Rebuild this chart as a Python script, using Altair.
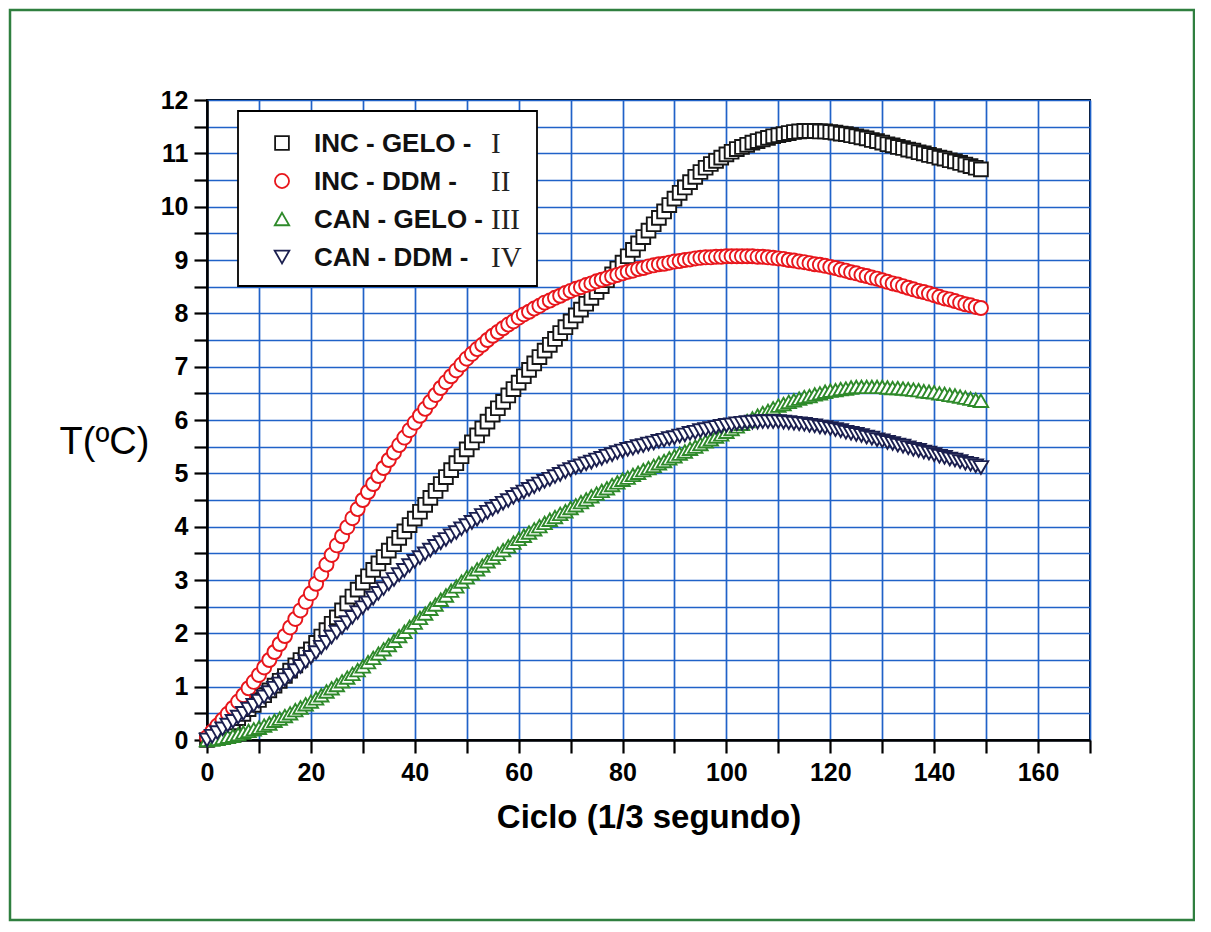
import altair as alt
import pandas as pd

# ---------------- data ----------------
cycles = list(range(150))

inc_gelo = [
    0.00, 0.06, 0.13, 0.19, 0.26, 0.33,
    0.41, 0.49, 0.58, 0.66, 0.75,
    0.84, 0.93, 1.02, 1.11, 1.20,
    1.30, 1.40, 1.50, 1.60, 1.70,
    1.82, 1.94, 2.06, 2.18, 2.30,
    2.43, 2.56, 2.69, 2.82, 2.95,
    3.07, 3.19, 3.31, 3.43, 3.55,
    3.67, 3.79, 3.91, 4.03, 4.15,
    4.28, 4.41, 4.54, 4.67, 4.80,
    4.93, 5.06, 5.19, 5.32, 5.45,
    5.58, 5.71, 5.84, 5.97, 6.10,
    6.22, 6.34, 6.46, 6.58, 6.70,
    6.82, 6.94, 7.06, 7.18, 7.30,
    7.41, 7.52, 7.63, 7.74, 7.85,
    7.96, 8.07, 8.18, 8.29, 8.40,
    8.51, 8.62, 8.73, 8.84, 8.95,
    9.07, 9.19, 9.31, 9.43, 9.55,
    9.67, 9.79, 9.91, 10.03, 10.15,
    10.26, 10.36, 10.46, 10.56, 10.65,
    10.73, 10.80, 10.86, 10.92, 10.98,
    11.03, 11.08, 11.12, 11.16, 11.20,
    11.23, 11.26, 11.29, 11.32, 11.34,
    11.36, 11.38, 11.40, 11.41, 11.42,
    11.42, 11.42, 11.41, 11.41, 11.40,
    11.39, 11.37, 11.36, 11.34, 11.32,
    11.30, 11.28, 11.25, 11.23, 11.20,
    11.17, 11.15, 11.12, 11.10, 11.07,
    11.05, 11.02, 11.00, 10.97, 10.95,
    10.92, 10.90, 10.87, 10.85, 10.82,
    10.79, 10.76, 10.73, 10.70,
]

inc_ddm = [
    0.05, 0.16, 0.27, 0.38, 0.49, 0.60,
    0.72, 0.84, 0.97, 1.09, 1.22,
    1.36, 1.50, 1.65, 1.80, 1.95,
    2.11, 2.27, 2.43, 2.59, 2.75,
    2.93, 3.11, 3.29, 3.47, 3.65,
    3.82, 3.99, 4.16, 4.33, 4.50,
    4.65, 4.80, 4.95, 5.10, 5.25,
    5.39, 5.53, 5.67, 5.81, 5.95,
    6.08, 6.21, 6.34, 6.47, 6.60,
    6.71, 6.82, 6.93, 7.04, 7.15,
    7.24, 7.33, 7.41, 7.50, 7.58,
    7.65, 7.72, 7.79, 7.85, 7.92,
    7.98, 8.03, 8.09, 8.14, 8.20,
    8.24, 8.29, 8.33, 8.38, 8.42,
    8.46, 8.49, 8.53, 8.56, 8.60,
    8.63, 8.66, 8.69, 8.72, 8.75,
    8.78, 8.80, 8.83, 8.85, 8.88,
    8.90, 8.92, 8.93, 8.95, 8.97,
    8.98, 9.00, 9.01, 9.03, 9.04,
    9.05, 9.05, 9.06, 9.06, 9.07,
    9.07, 9.07, 9.07, 9.07, 9.07,
    9.06, 9.06, 9.05, 9.04, 9.03,
    9.02, 9.00, 8.99, 8.97, 8.96,
    8.94, 8.92, 8.91, 8.89, 8.87,
    8.85, 8.82, 8.80, 8.77, 8.75,
    8.72, 8.70, 8.67, 8.65, 8.62,
    8.59, 8.56, 8.54, 8.51, 8.48,
    8.45, 8.42, 8.40, 8.37, 8.34,
    8.31, 8.28, 8.26, 8.23, 8.20,
    8.17, 8.15, 8.12, 8.10,
]

can_gelo = [
    0.00, 0.01, 0.02, 0.04, 0.06, 0.08,
    0.11, 0.14, 0.17, 0.20, 0.23,
    0.27, 0.31, 0.36, 0.40, 0.45,
    0.50, 0.56, 0.61, 0.67, 0.72,
    0.78, 0.84, 0.91, 0.97, 1.03,
    1.10, 1.17, 1.24, 1.31, 1.38,
    1.46, 1.54, 1.62, 1.70, 1.78,
    1.86, 1.95, 2.03, 2.12, 2.20,
    2.29, 2.37, 2.46, 2.54, 2.63,
    2.71, 2.80, 2.88, 2.97, 3.05,
    3.12, 3.20, 3.27, 3.35, 3.42,
    3.49, 3.56, 3.63, 3.70, 3.77,
    3.83, 3.89, 3.95, 4.01, 4.07,
    4.13, 4.18, 4.24, 4.29, 4.35,
    4.40, 4.46, 4.51, 4.57, 4.62,
    4.67, 4.72, 4.78, 4.83, 4.88,
    4.92, 4.97, 5.01, 5.06, 5.10,
    5.14, 5.19, 5.23, 5.28, 5.32,
    5.37, 5.41, 5.46, 5.50, 5.55,
    5.60, 5.64, 5.69, 5.73, 5.78,
    5.83, 5.88, 5.93, 5.98, 6.03,
    6.08, 6.13, 6.17, 6.22, 6.27,
    6.30, 6.34, 6.37, 6.40, 6.43,
    6.45, 6.48, 6.50, 6.53, 6.55,
    6.56, 6.58, 6.59, 6.61, 6.62,
    6.62, 6.62, 6.62, 6.62, 6.62,
    6.61, 6.60, 6.60, 6.59, 6.58,
    6.57, 6.56, 6.54, 6.53, 6.52,
    6.50, 6.49, 6.47, 6.46, 6.44,
    6.42, 6.40, 6.38, 6.36,
]

can_ddm = [
    0.00, 0.07, 0.14, 0.21, 0.28, 0.35,
    0.43, 0.50, 0.58, 0.65, 0.73,
    0.81, 0.89, 0.97, 1.05, 1.13,
    1.21, 1.30, 1.38, 1.47, 1.55,
    1.64, 1.74, 1.83, 1.93, 2.02,
    2.11, 2.20, 2.30, 2.39, 2.48,
    2.57, 2.66, 2.75, 2.84, 2.93,
    3.01, 3.10, 3.18, 3.27, 3.35,
    3.42, 3.49, 3.56, 3.63, 3.70,
    3.76, 3.83, 3.89, 3.96, 4.02,
    4.08, 4.14, 4.21, 4.27, 4.33,
    4.38, 4.44, 4.49, 4.55, 4.60,
    4.65, 4.70, 4.75, 4.80, 4.85,
    4.89, 4.94, 4.98, 5.03, 5.07,
    5.11, 5.14, 5.18, 5.21, 5.25,
    5.28, 5.32, 5.35, 5.39, 5.42,
    5.45, 5.47, 5.50, 5.52, 5.55,
    5.57, 5.60, 5.62, 5.65, 5.67,
    5.70, 5.72, 5.75, 5.77, 5.80,
    5.82, 5.84, 5.86, 5.88, 5.90,
    5.91, 5.93, 5.94, 5.95, 5.96,
    5.96, 5.97, 5.97, 5.97, 5.97,
    5.96, 5.95, 5.94, 5.93, 5.92,
    5.90, 5.89, 5.87, 5.86, 5.84,
    5.82, 5.80, 5.77, 5.75, 5.73,
    5.71, 5.68, 5.66, 5.63, 5.61,
    5.58, 5.56, 5.53, 5.51, 5.48,
    5.45, 5.43, 5.40, 5.38, 5.35,
    5.32, 5.30, 5.27, 5.25, 5.22,
    5.19, 5.17, 5.14, 5.11,
]

series_names = ["INC - GELO -", "INC - DDM -", "CAN - GELO -", "CAN - DDM -"]
series_numerals = ["I", "II", "III", "IV"]

x_ticks = list(range(0, 171, 10))
y_ticks = [v / 2 for v in range(0, 25)]

# ---------------- styles ----------------
series_keys = [n + " " + r for n, r in zip(series_names, series_numerals)]
shapes = ["square", "circle", "triangle-up", "triangle-down"]
strokes = ["#161616", "#e8161c", "#2e8a2a", "#1b1f4f"]
sizes = [190, 215, 240, 240]
legend_sizes = [95, 125, 120, 120]
grid_blue = "#2062c8"
sans = "Liberation Sans"
serif = "Liberation Serif"

rows = []
for k, vals in enumerate([inc_gelo, inc_ddm, can_gelo, can_ddm]):
    for c, v in zip(cycles, vals):
        rows.append({"ciclo": c, "T": v, "serie": series_keys[k]})
df = pd.DataFrame(rows)

legend_df = pd.DataFrame({
    "row": [0, 1, 2, 3],
    "serie": series_keys,
    "name": series_names,
    "num": series_numerals,
})

shape_scale = alt.Scale(domain=series_keys, range=shapes)
stroke_scale = alt.Scale(domain=series_keys, range=strokes)

x_enc = alt.X(
    "ciclo:Q",
    scale=alt.Scale(domain=[0, 170], nice=False, zero=False),
    axis=alt.Axis(
        values=x_ticks,
        format="d",
        labelExpr="datum.value % 20 === 0 ? datum.label : ''",
        title="Ciclo (1/3 segundo)",
        titleFont=sans, titleFontSize=33, titleFontWeight="bold", titleColor="black",
        titlePadding=16,
        labelFont=sans, labelFontSize=25, labelFontWeight="bold", labelColor="black",
        labelPadding=7, labelFlush=False, labelOverlap=False,
        tickSize=13, tickWidth=2.2, tickColor="black",
        domainColor="black", domainWidth=2.5,
        grid=True, gridColor=grid_blue, gridWidth=1.7, gridOpacity=1,
    ),
)
y_enc = alt.Y(
    "T:Q",
    scale=alt.Scale(domain=[0, 12], nice=False, zero=False),
    axis=alt.Axis(
        values=y_ticks,
        format=".0f",
        labelExpr="datum.value % 1 === 0 ? datum.label : ''",
        title="T(ºC)",
        titleFont=sans, titleFontSize=38, titleFontWeight="normal", titleColor="black",
        titleAngle=0, titleAlign="center", titleBaseline="middle",
        titleX=-103, titleY=342,
        labelFont=sans, labelFontSize=25, labelFontWeight="bold", labelColor="black",
        labelPadding=6, labelFlush=False, labelOverlap=False,
        tickSize=13, tickWidth=2.2, tickColor="black",
        domainColor="black", domainWidth=2.5,
        grid=True, gridColor=grid_blue, gridWidth=1.7, gridOpacity=1,
    ),
)

points = alt.Chart(df).mark_point(
    filled=True, opacity=1, strokeWidth=1.9
).encode(
    x=x_enc,
    y=y_enc,
    shape=alt.Shape("serie:N", scale=shape_scale, legend=None),
    stroke=alt.Stroke("serie:N", scale=stroke_scale, legend=None),
    size=alt.Size("serie:N", scale=alt.Scale(domain=series_keys, range=sizes), legend=None),
    fill=alt.value("white"),
)

one = pd.DataFrame({"k": [0]})

frame = alt.Chart(one).mark_rect(
    fill=None, stroke="#2f7f3f", strokeWidth=2.5, clip=False
).encode(
    x=alt.value(-197), x2=alt.value(987), y=alt.value(-90), y2=alt.value(820)
)

legend_box = alt.Chart(one).mark_rect(
    fill="white", stroke="black", strokeWidth=1.8
).encode(
    x=alt.value(31), x2=alt.value(330), y=alt.value(11), y2=alt.value(186)
)

ly = alt.Y("row:Q", scale=alt.Scale(domain=[0, 3], range=[43, 157]), axis=None)

legend_sym = alt.Chart(legend_df).mark_point(
    filled=True, opacity=1, strokeWidth=1.8
).encode(
    x=alt.value(75),
    y=ly,
    shape=alt.Shape("serie:N", scale=shape_scale, legend=None),
    stroke=alt.Stroke("serie:N", scale=stroke_scale, legend=None),
    size=alt.Size("serie:N", scale=alt.Scale(domain=series_keys, range=legend_sizes), legend=None),
    fill=alt.value("white"),
)

legend_txt = alt.Chart(legend_df).mark_text(
    align="left", baseline="middle", font=sans, fontSize=26, fontWeight="bold",
    color="#111111", dy=1
).encode(x=alt.value(107), y=ly, text="name:N")

legend_num = alt.Chart(legend_df).mark_text(
    align="left", baseline="middle", font=serif, fontSize=29, color="#222222", dy=1
).encode(x=alt.value(284), y=ly, text="num:N")

legend = alt.layer(legend_box, legend_sym, legend_txt, legend_num)

chart = alt.layer(frame, points, legend).resolve_scale(
    y="independent"
).properties(
    width=883,
    height=640,
    autosize=alt.AutoSizeParams(type="none"),
    padding={"left": 199, "top": 92, "right": 105, "bottom": 182},
    background="white",
).configure_view(
    stroke="black", strokeWidth=2
)

chart.save("out.html", embed_options={"renderer": "svg", "actions": False})
